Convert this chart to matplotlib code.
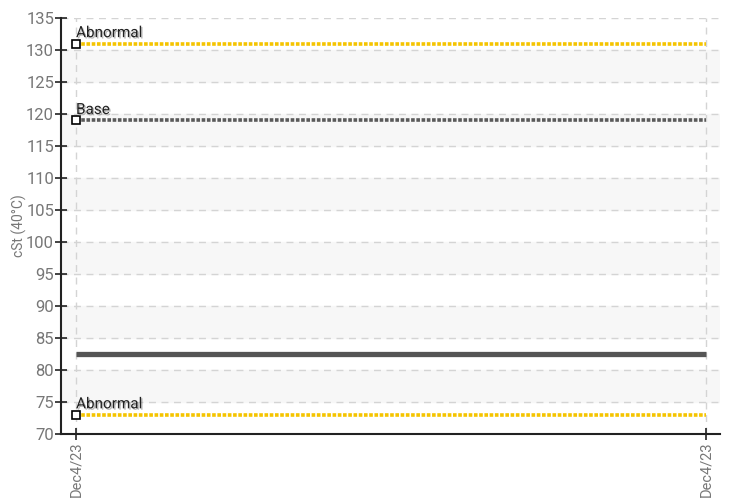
import matplotlib
matplotlib.use("Agg")
import matplotlib.pyplot as plt
import matplotlib.patheffects as pe

plt.rcParams['font.family'] = ['Roboto', 'DejaVu Sans']

# data
dates = ['Dec4/23', 'Dec4/23']
viscosity = [82.5, 82.5]
limits = [('Abnormal', 131, '#f5c400'), ('Base', 119, '#5a5a5a'), ('Abnormal', 73, '#f5c400')]

fig = plt.figure(figsize=(7.49, 4.98), dpi=100)
ax = fig.add_axes([61 / 749, 1 - 434 / 498, (720 - 61) / 749, (434 - 18) / 498])

x = list(range(len(dates)))
ax.set_xlim(-15 / 630, 1 + 14 / 630)
ax.set_ylim(70, 135)

# alternating bands
for lo in range(75, 130, 10):
    ax.axhspan(lo, lo + 5, color='#f7f7f7', zorder=0)

ax.grid(True, color='#d4d4d4', linestyle=(0, (5, 4)), linewidth=1, zorder=1)

shadow = [pe.withSimplePatchShadow(offset=(1, -1), shadow_rgbFace='#888888', alpha=0.6)]
for name, val, col in limits:
    ax.plot(x, [val, val], color=col, linewidth=2.6, linestyle=(0, (1, 0.45)),
            solid_capstyle='butt', zorder=3)
    ax.plot([x[0]], [val], marker='s', markersize=5.5, markerfacecolor='white',
            markeredgecolor='black', markeredgewidth=1.2, linestyle='none', zorder=5)
    ax.annotate(name, (x[0], val), xytext=(0, 2.5), textcoords='offset points',
                fontsize=11, color='#222222', ha='left', va='bottom',
                path_effects=shadow, zorder=6)

ax.plot(x, viscosity, color='#555555', linewidth=3.8, solid_capstyle='butt', zorder=4)

ax.set_yticks(range(70, 136, 5))
ax.set_xticks(x)
ax.set_xticklabels(dates, rotation=90, fontsize=10.5)
ax.tick_params(axis='both', direction='inout', length=8, width=1.2, colors='#222222',
               labelcolor='#777777')
ax.tick_params(axis='y', labelsize=12, pad=1)
ax.tick_params(axis='x', pad=1)
ax.set_ylabel('cSt (40°C)', color='#777777', fontsize=10)
ax.yaxis.set_label_coords(-0.052, 0.5)

for s in ['top', 'right']:
    ax.spines[s].set_visible(False)
for s in ['left', 'bottom']:
    ax.spines[s].set_color('#222222')
    ax.spines[s].set_linewidth(1.5)

fig.savefig('out.png', dpi=100)
